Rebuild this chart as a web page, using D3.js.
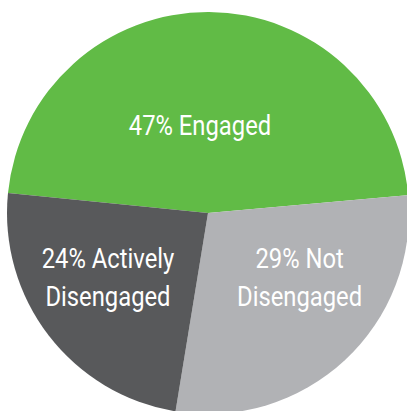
<!DOCTYPE html>
<html>
<head>
<meta charset="utf-8">
<script src="https://cdn.jsdelivr.net/npm/d3@7"></script>
<style>
  html, body { margin: 0; padding: 0; background: #fff; }
  svg { display: block; }
</style>
</head>
<body>
<svg id="chart"></svg>
<script>
// chart data
const categories = ["Engaged", "Not Disengaged", "Actively Disengaged"];
const values = [47, 29, 24];
const labelLines = [["47% Engaged"], ["29% Not", "Disengaged"], ["24% Actively", "Disengaged"]];
const colors = ["#61bb46", "#b1b2b5", "#58595b"];

const width = 407;
const height = 411;
const cx = 208, cy = 213;
const radius = 201;

const svg = d3.select("#chart")
    .attr("width", width)
    .attr("height", height);

const g = svg.append("g")
    .attr("transform", `translate(${cx},${cy})`);

const pie = d3.pie()
    .sort(null)
    .value(d => d.value)
    .startAngle(-84.3 * Math.PI / 180)
    .endAngle(275.7 * Math.PI / 180);

const arcs = pie(categories.map((c, i) => ({ name: c, value: values[i], lines: labelLines[i] })));

const arc = d3.arc().innerRadius(0).outerRadius(radius);

g.selectAll("path")
    .data(arcs)
    .enter()
    .append("path")
    .attr("d", arc)
    .style("fill", (d, i) => colors[i]);

// label placement: radius factor and angle nudge (degrees) per slice
const labelLayout = {
    "Engaged": { r: 0.44, da: -5.5 },
    "Not Disengaged": { r: 0.557, da: -12 },
    "Actively Disengaged": { r: 0.59, da: 5 }
};
const lineHeight = 38;

const labels = g.selectAll(".slice-label")
    .data(arcs)
    .enter()
    .append("text")
    .attr("class", "slice-label")
    .attr("text-anchor", "middle")
    .style("font-family", "Roboto, 'Noto Sans', sans-serif")
    .style("font-size", "28px")
    .style("fill", "#fff")
    .attr("transform", d => {
        const lay = labelLayout[d.data.name];
        const a = (d.startAngle + d.endAngle) / 2 + lay.da * Math.PI / 180;
        const x = Math.sin(a) * radius * lay.r;
        const y = -Math.cos(a) * radius * lay.r;
        return `translate(${x},${y}) scale(0.85,1)`; // condensed look
    });

labels.each(function (d) {
    const n = d.data.lines.length;
    d3.select(this).selectAll("tspan")
        .data(d.data.lines)
        .enter()
        .append("tspan")
        .attr("x", 0)
        .attr("y", (t, i) => (i - (n - 1) / 2) * lineHeight + 10)
        .text(t => t);
});
</script>
</body>
</html>
